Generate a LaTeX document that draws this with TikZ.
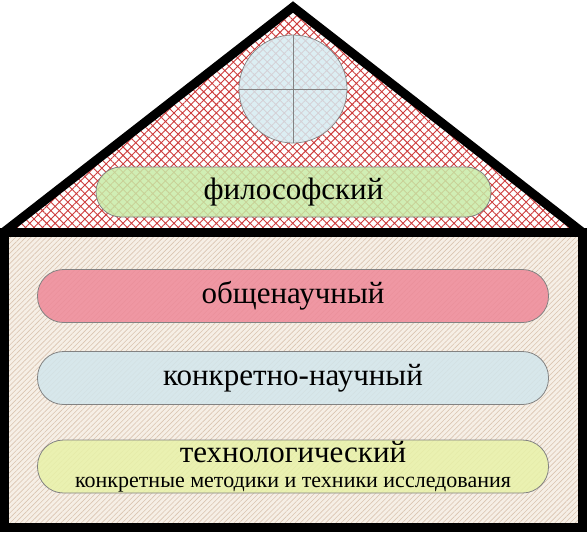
\documentclass[tikz,border=0pt]{standalone}
\usepackage{fontspec}
\setmainfont{Liberation Serif}
\usetikzlibrary{patterns.meta}
\definecolor{roofhatch}{RGB}{205,60,60}
\definecolor{bodybase}{RGB}{246,239,230}
\definecolor{bodyhatch}{RGB}{218,196,176}
\definecolor{pillgreen}{RGB}{200,236,168}
\definecolor{pillpink}{RGB}{238,136,152}
\definecolor{pillblue}{RGB}{210,230,236}
\definecolor{pillyellow}{RGB}{232,242,168}
\definecolor{winblue}{RGB}{214,236,242}
\definecolor{pillborder}{RGB}{130,130,130}
\tikzset{
  pill/.style={draw=pillborder, line width=0.8pt, rectangle, rounded corners=26pt,
    minimum width=511pt, minimum height=53pt, inner sep=0pt, fill opacity=0.85,
    text opacity=1, align=center, font=\fontsize{31}{34}\selectfont},
  wall/.style={line width=9pt, line join=miter, black}
}
\begin{document}
\begin{tikzpicture}[x=1pt,y=-1pt]
\useasboundingbox (0,0) rectangle (588,533);
% roof
\coordinate (rl) at (4,232);
\coordinate (ra) at (293,7);
\coordinate (rr) at (582,232);
\fill[white] (rl) -- (ra) -- (rr) -- cycle;
\fill[pattern={Hatch[angle=45,distance=6pt,line width=0.9pt]}, pattern color=roofhatch] (rl) -- (ra) -- (rr) -- cycle;
% body
\coordinate (bl) at (4,232);
\coordinate (br) at (582,527);
\fill[bodybase] (bl) rectangle (br);
\fill[pattern={Lines[angle=45,distance=3.6pt,line width=0.6pt]}, pattern color=bodyhatch] (bl) rectangle (br);
% window
\node[circle, draw=pillborder, line width=0.7pt, fill=winblue, fill opacity=0.85, minimum size=108pt, inner sep=0pt] (win) at (293,89) {};
\draw[pillborder, line width=0.7pt] (win.north) -- (win.south);
\draw[pillborder, line width=0.7pt] (win.west) -- (win.east);
% pills
\node[pill, fill=pillgreen, minimum width=395pt, minimum height=50pt, rounded corners=25pt] (phil) at (293.5,192) {философский};
\node[pill, fill=pillpink] (gen) at (293,296) {общенаучный};
\node[pill, fill=pillblue] (conc) at (293,378) {конкретно-научный};
\node[pill, fill=pillyellow] (tech) at (293,466.5) {технологический\\[-9pt]{\fontsize{22}{24}\selectfont конкретные методики и техники исследования}};
% outlines
\draw[wall] (rl) -- (ra) -- (rr);
\draw[wall] (bl) rectangle (br);
\end{tikzpicture}
\end{document}
